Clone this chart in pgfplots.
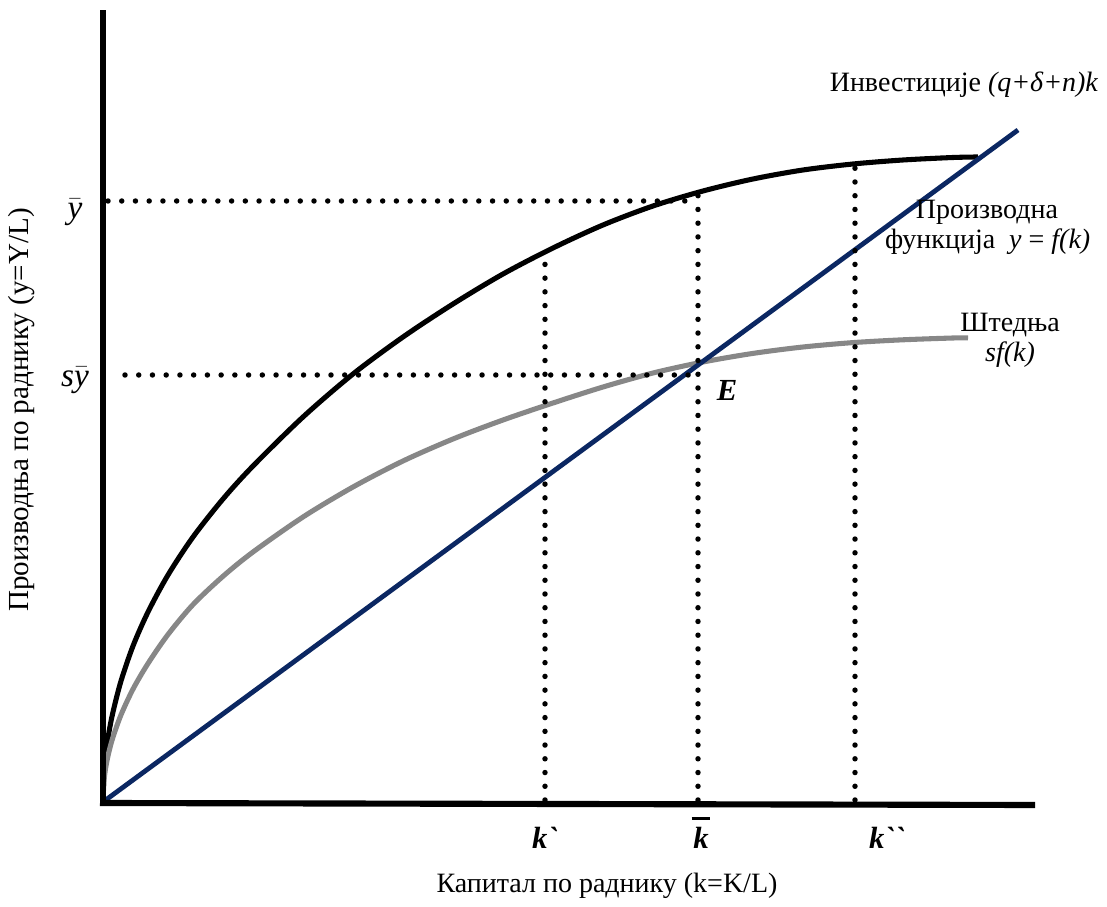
\documentclass[border=0pt]{standalone}
\usepackage{pgfplots}
\pgfplotsset{compat=1.18}
\usepackage{fontspec}
\setmainfont{Liberation Serif}[Ligatures=TeXOff]
\definecolor{invblue}{HTML}{0B2762}
\definecolor{savgray}{HTML}{878787}

\begin{document}
\begin{tikzpicture}[font=\fontsize{21}{25}\selectfont]
\begin{axis}[
  hide axis, scale only axis,
  width=830.25pt, height=680.25pt,
  xmin=-103, xmax=1004, ymin=-105, ymax=802,
  clip=false,
  dots/.style={black, line width=4.1pt, line cap=round, dash pattern=on 0pt off 10.3pt},
]
% frame for the bounding box
\addplot[draw=none] coordinates {(-103,-105) (1004,802)};

% production function y = f(k)
\addplot[black, line width=3.8pt, smooth] coordinates {
  (0,0) (1,29) (3,50) (6,70) (10,90) (18,121) (30,156) (45,190)
  (65,227) (90,265) (120,303) (150,336) (200,385) (250,428) (300,465)
  (350,498) (400,528) (450,554) (500,577) (550,596) (600,611) (650,623)
  (700,632) (750,638) (800,642) (850,644.5) (875,645)
};
% savings sf(k)
\addplot[savgray, line width=3.8pt, smooth] coordinates {
  (0,0) (1,21) (3,36) (6,50.4) (10,64.8) (18,87.1) (30,112.9) (45,138.5)
  (65,167.5) (90,197.4) (120,225.7) (150,250) (200,285) (250,315) (300,341)
  (350,363) (400,382) (450,399) (500,415) (550,429) (600,440) (650,448.6)
  (700,455) (750,459.4) (800,462.2) (850,464) (865,464.2)
};
% investment (q+delta+n)k
\addplot[invblue, line width=3.6pt] coordinates {(0,0) (915,672)};

% dotted guides
\addplot[dots] coordinates {(5,601) (595,601)};
\addplot[dots] coordinates {(22,427) (595,427)};
\addplot[dots] coordinates {(442,2) (442,551)};
\addplot[dots] coordinates {(595,2) (595,612)};
\addplot[dots] coordinates {(752,2) (752,641)};

% axes
\addplot[black, line width=4.6pt] coordinates {(0,-4) (0,792)};
\addplot[black, line width=4.6pt] coordinates {(-3,-1) (932,-3)};

% labels
\node[font=\fontsize{25}{29}\selectfont] at (axis cs:-28,590) {$\bar{\textit{y}}$};
\node[font=\fontsize{25}{29}\selectfont] at (axis cs:-28,422) {\textit{s}$\bar{\textit{y}}$};
\node[font=\fontsize{23}{27}\selectfont] at (axis cs:442,-36) {\textbf{\textit{k`}}};
\node[font=\fontsize{23}{25}\selectfont, align=center, inner sep=0pt] at (axis cs:598,-31)
  {\rule{14pt}{1.8pt}\\[-3pt]\textbf{\textit{k}}};
\node[font=\fontsize{23}{27}\selectfont] at (axis cs:784,-36) {\textbf{\textit{k``}}};
\node[font=\fontsize{23}{27}\selectfont] at (axis cs:624,412) {\textbf{\textit{E}}};
\node at (axis cs:504,-84) {Капитал по раднику (k=K/L)};
\node[rotate=90, font=\fontsize{21.8}{25}\selectfont] at (axis cs:-81,392) {Производња по раднику (y=Y/L)};
\node[anchor=east] at (axis cs:1000,717) {Инвестиције \textit{(q+δ+n)k}};
\node at (axis cs:884,590) {Производна};
\node[anchor=east] at (axis cs:992,560) {функција\ \ \textit{y} = \textit{f(k)}};
\node at (axis cs:907,477) {Штедња};
\node at (axis cs:907,447) {\textit{sf(k)}};
\end{axis}
\end{tikzpicture}
\end{document}
